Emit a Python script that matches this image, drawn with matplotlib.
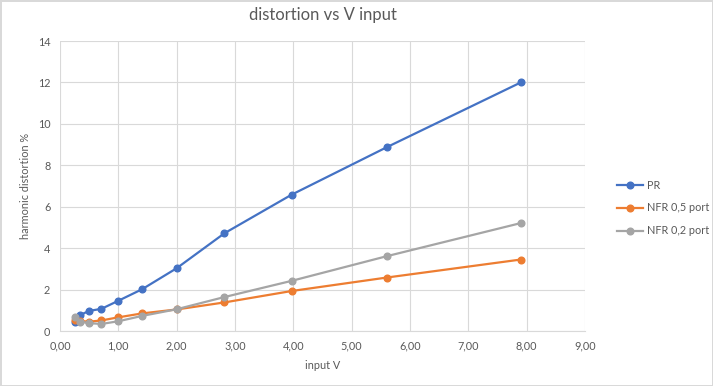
import matplotlib
matplotlib.use('Agg')
import matplotlib.pyplot as plt
from matplotlib.ticker import FuncFormatter

plt.rcParams['font.family'] = ['Lato', 'DejaVu Sans']

# data
v_in = [0.25, 0.35, 0.50, 0.71, 1.00, 1.41, 2.00, 2.82, 3.97, 5.60, 7.90]
pr = [0.45, 0.78, 0.97, 1.07, 1.46, 2.02, 3.03, 4.72, 6.58, 8.87, 12.0]
nfr_05 = [0.55, 0.48, 0.45, 0.51, 0.66, 0.85, 1.04, 1.38, 1.93, 2.58, 3.45]
nfr_02 = [0.66, 0.45, 0.38, 0.34, 0.47, 0.73, 1.05, 1.64, 2.42, 3.61, 5.21]
labels = ['PR', 'NFR 0,5 port', 'NFR 0,2 port']
colors = ['#4472C4', '#ED7D31', '#A5A5A5']

fig = plt.figure(figsize=(7.13, 3.86), dpi=100)
fig.patch.set_edgecolor('#D9D9D9')
fig.patch.set_linewidth(1)
ax = fig.add_axes([60 / 713, 1 - 331 / 386, 525 / 713, 290 / 386])

for ys, lab, c in zip([pr, nfr_05, nfr_02], labels, colors):
    ax.plot(v_in, ys, color=c, marker='o', markersize=4.8, linewidth=1.6, label=lab)

ax.set_xlim(0, 9)
ax.set_ylim(0, 14)
ax.set_xticks(range(0, 10))
ax.set_yticks(range(0, 15, 2))
ax.xaxis.set_major_formatter(FuncFormatter(lambda v, p: f'{v:.2f}'.replace('.', ',')))
ax.grid(True, color='#D9D9D9', linewidth=0.8)
ax.set_axisbelow(True)
for s in ['top', 'right', 'left']:
    ax.spines[s].set_visible(False)
ax.spines['bottom'].set_color('#D9D9D9')
ax.tick_params(length=0, labelsize=7.8, colors='#595959', pad=7)

ax.set_title('distortion vs V input', fontsize=12, color='#595959', pad=15)
ax.set_xlabel('input V', fontsize=7.8, color='#595959', labelpad=6)
ax.set_ylabel('harmonic distortion %', fontsize=7.8, color='#595959', labelpad=5)

fig.legend(loc='center left', bbox_to_anchor=(607 / 713, 1 - 208 / 386), frameon=False,
           fontsize=7.8, labelcolor='#595959', handlelength=2.4, handletextpad=0.4,
           labelspacing=1.1)

fig.savefig('out.png', dpi=100)
